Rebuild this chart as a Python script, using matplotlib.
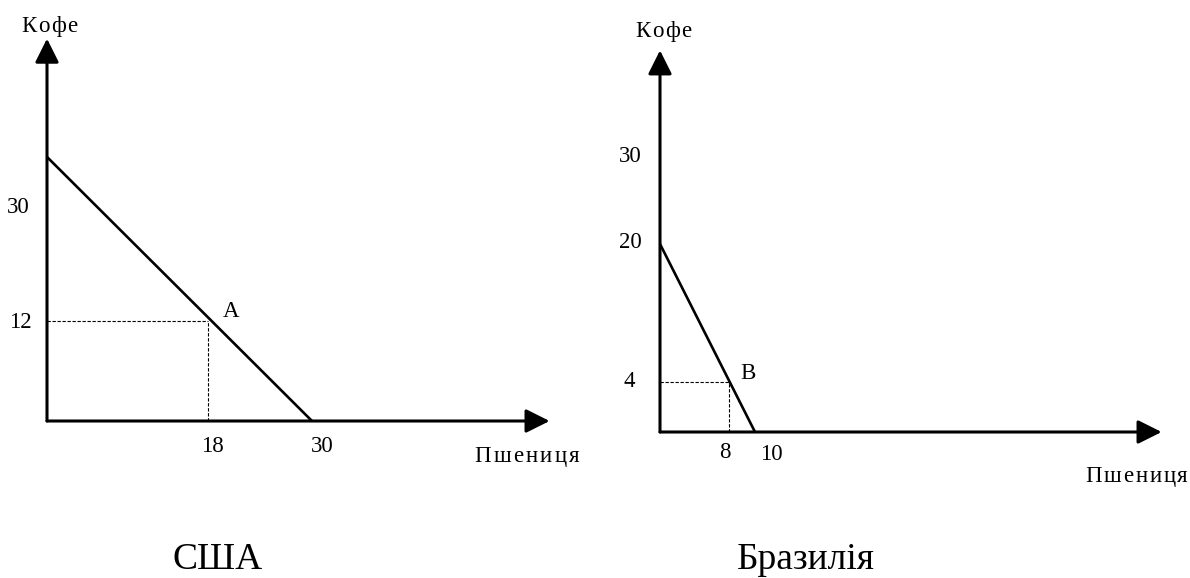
import matplotlib
matplotlib.use("Agg")
import matplotlib.pyplot as plt

plt.rcParams['font.family'] = ['Liberation Serif', 'DejaVu Serif']

# ---------------- data (in chart units) ----------------
# USA panel
usa_ppf_x = [0, 30]          # wheat
usa_ppf_y = [31.7, 0]        # coffee
usa_point = (18.2, 12.0)     # A
usa_point_label = "A"
usa_xtick_labels = ["18", "30"]
usa_ytick_labels = ["30", "12"]
usa_title = "США"

# Brazil panel
bra_ppf_x = [0, 10]
bra_ppf_y = [20, 0]
bra_point = (7.3, 5.3)       # B
bra_point_label = "B"
bra_xtick_labels = ["8", "10"]
bra_ytick_labels = ["30", "20", "4"]
bra_title = "Бразилія"

y_axis_name = "Кофе"
x_axis_name = "Пшениця"

# ---------------- layout ----------------
W, H = 1190, 578
fig = plt.figure(figsize=(W / 100, H / 100), dpi=100)
renderer = fig.canvas.get_renderer()

SMALL = 16.5
BIG = 27


def make_axes(origin_px, xscale, yscale, xmax, ymax):
    ox, oy = origin_px
    left = ox / W
    bottom = (H - oy) / H
    width = xmax * xscale / W
    height = ymax * yscale / H
    ax = fig.add_axes([left, bottom, width, height])
    ax.set_xlim(0, xmax)
    ax.set_ylim(0, ymax)
    ax.axis('off')
    return ax


def axis_arrow(ax, tip):
    ax.annotate('', xy=tip, xytext=(0, 0),
                arrowprops=dict(arrowstyle='-|>,head_length=1.0,head_width=0.5',
                                lw=2.2, color='black', shrinkA=0, shrinkB=0,
                                mutation_scale=14.5),
                annotation_clip=False)


def label(ax, txt, xy, off, ha='center', va='center', size=SMALL):
    ax.annotate(txt, xy=xy, xytext=off, textcoords='offset pixels',
                ha=ha, va=va, fontsize=size, annotation_clip=False)


def spaced_label(ax, txt, xy, off, spacing, size=SMALL):
    """Letter-spaced text, left edge at offset `off` (pixels) from xy."""
    x = 0.0
    for ch in txt:
        t = ax.annotate(ch, xy=xy, xytext=(off[0] + x, off[1]),
                        textcoords='offset pixels', ha='left', va='baseline',
                        fontsize=size, annotation_clip=False)
        w = t.get_window_extent(renderer).width
        x += w + spacing


def draw_panel(ax, ppf_x, ppf_y, pt, x_tip, y_tip):
    axis_arrow(ax, (x_tip, 0))
    axis_arrow(ax, (0, y_tip))
    ax.plot(ppf_x, ppf_y, color='black', lw=1.9, clip_on=False,
            solid_capstyle='butt')
    ax.plot([0, pt[0]], [pt[1], pt[1]], color='black', lw=0.8,
            ls=(0, (3, 1.5)), clip_on=False)
    ax.plot([pt[0], pt[0]], [0, pt[1]], color='black', lw=0.8,
            ls=(0, (3, 1.5)), clip_on=False)


# ---- USA ----
axL = make_axes((47, 421), 8.833, 8.33, 60, 48)
draw_panel(axL, usa_ppf_x, usa_ppf_y, usa_point, 56.9, 45.9)
spaced_label(axL, y_axis_name, (0, 45.9), (-26, 7), 1.6)
spaced_label(axL, x_axis_name, (56.9, 0), (-75, -41), 2.2)
label(axL, usa_point_label, usa_point, (15, 10), ha='left')
label(axL, usa_xtick_labels[0], (usa_point[0], 0), (5, -26))
label(axL, usa_xtick_labels[1], (usa_ppf_x[1], 0), (10, -26))
label(axL, usa_ytick_labels[0], (0, usa_ppf_y[0]), (-17, -51), ha='right')
label(axL, usa_ytick_labels[1], (0, usa_point[1]), (-15, -1), ha='right')
label(axL, usa_title, (0, 0), (125, -148), ha='left',
      va='baseline', size=BIG)

# ---- Brazil ----
axR = make_axes((660, 432), 9.5, 9.4, 54, 42)
draw_panel(axR, bra_ppf_x, bra_ppf_y, bra_point, 52.8, 40.6)
spaced_label(axR, y_axis_name, (0, 40.6), (-25, 13), 1.6)
spaced_label(axR, x_axis_name, (52.8, 0), (-76, -50), 1.8)
label(axR, bra_point_label, bra_point, (11, 9), ha='left')
label(axR, bra_xtick_labels[0], (bra_point[0], 0), (-4, -21))
label(axR, bra_xtick_labels[1], (bra_ppf_x[1], 0), (16, -23))
label(axR, bra_ytick_labels[0], (0, 30), (-18, -6), ha='right')
label(axR, bra_ytick_labels[1], (0, bra_ppf_y[0]), (-18, 2), ha='right')
label(axR, bra_ytick_labels[2], (0, bra_point[1]), (-25, 1), ha='right')
label(axR, bra_title, (0, 0), (77, -137), ha='left', va='baseline', size=BIG)

fig.savefig("out.png", dpi=100, facecolor='white')
